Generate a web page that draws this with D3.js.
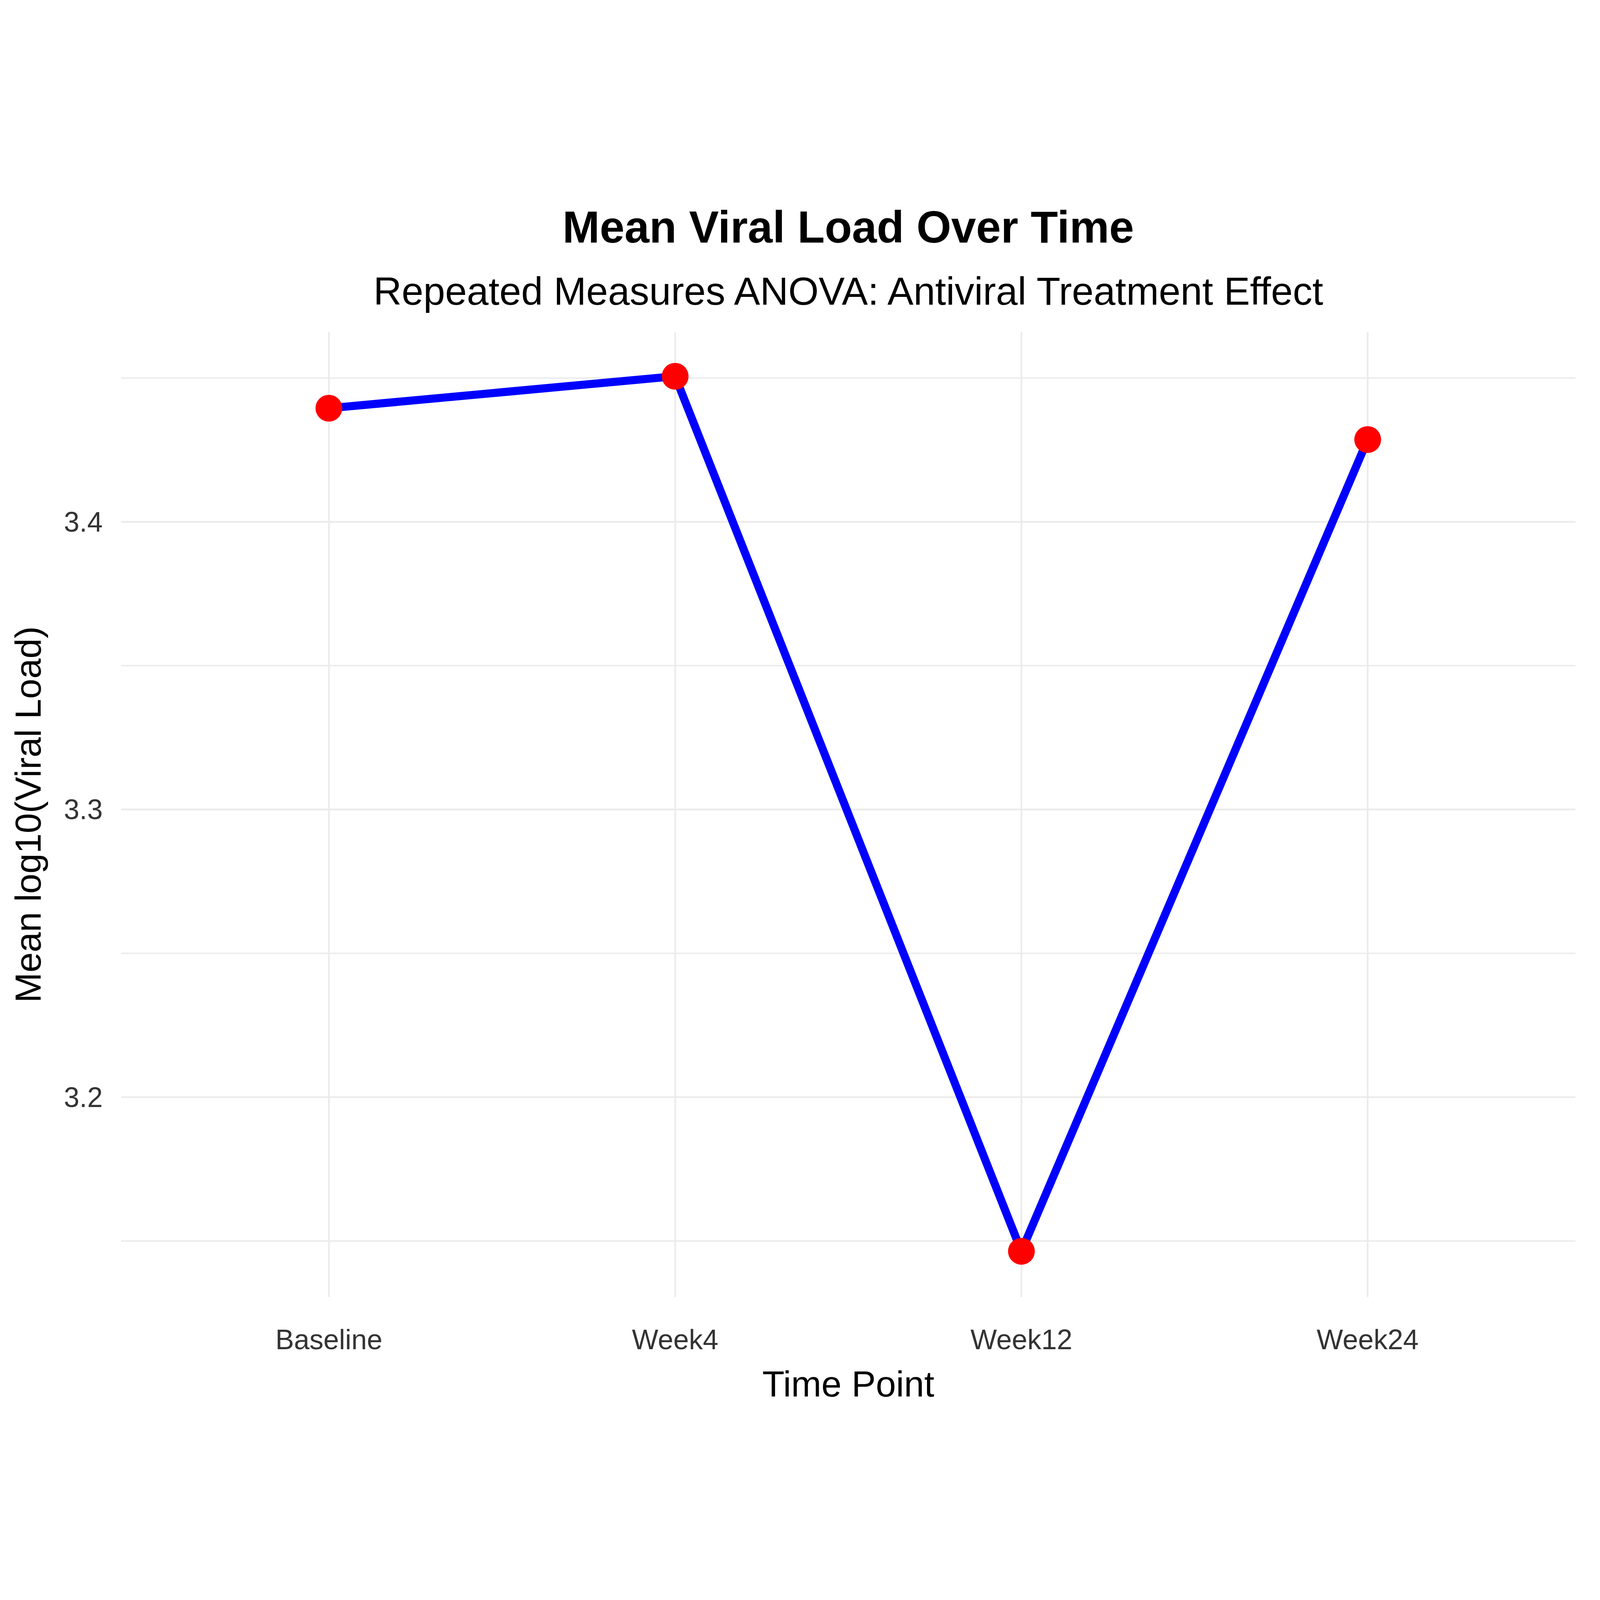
<!DOCTYPE html>
<html><head><meta charset="utf-8">
<script src="https://cdn.jsdelivr.net/npm/d3@7"></script>
<style>html,body{margin:0;padding:0;background:#fff;overflow:hidden;width:100%;height:100%}svg{display:block;width:100vw;height:100vh}</style></head>
<body><svg id="c" viewBox="0 0 5733 4310" preserveAspectRatio="xMidYMid meet"></svg>
<script>
const categories = ["Baseline","Week4","Week12","Week24"];
const values = [3.4395, 3.4506, 3.1464, 3.4286];
const majorTicks = [3.2, 3.3, 3.4];
const minorTicks = [3.15, 3.25, 3.35, 3.45];

const svg = d3.select("#c");
const L=434, R=5645, T=478, B=3936;
const x = d3.scaleLinear().domain([-0.6, categories.length-1+0.6]).range([L,R]);
const y = d3.scaleLinear().domain([3.1305, 3.466]).range([B,T]);
const font = "Liberation Sans, Arial, sans-serif";

svg.append("rect").attr("width",5733).attr("height",4310).attr("fill","#fff");
const g = svg.append("g");
g.selectAll(".mn").data(minorTicks).join("line")
 .attr("x1",L).attr("x2",R).attr("y1",d=>y(d)).attr("y2",d=>y(d))
 .attr("stroke","#ebebeb").attr("stroke-width",5);
g.selectAll(".mj").data(majorTicks).join("line")
 .attr("x1",L).attr("x2",R).attr("y1",d=>y(d)).attr("y2",d=>y(d))
 .attr("stroke","#ebebeb").attr("stroke-width",6);
g.selectAll(".vx").data(categories).join("line")
 .attr("x1",(d,i)=>x(i)).attr("x2",(d,i)=>x(i)).attr("y1",T).attr("y2",B)
 .attr("stroke","#ebebeb").attr("stroke-width",6);

const line = d3.line().x((d,i)=>x(i)).y(d=>y(d));
g.append("path").datum(values).attr("d",line).attr("fill","none")
 .attr("stroke","#0000ff").attr("stroke-width",29).attr("stroke-linejoin","round");
g.selectAll(".pt").data(values).join("circle")
 .attr("cx",(d,i)=>x(i)).attr("cy",d=>y(d)).attr("r",48).attr("fill","#ff0000");

g.selectAll(".yl").data(majorTicks).join("text")
 .attr("x",368).attr("y",d=>y(d)).attr("dy","0.35em").attr("text-anchor","end")
 .attr("font-family",font).attr("font-size",100).attr("fill","#333").text(d=>d.toFixed(1));
g.selectAll(".xl").data(categories).join("text")
 .attr("x",(d,i)=>x(i)).attr("y",4123).attr("text-anchor","middle")
 .attr("font-family",font).attr("font-size",100).attr("fill","#333").text(d=>d);

svg.append("text").attr("x",(L+R)/2).attr("y",4292).attr("text-anchor","middle")
 .attr("font-family",font).attr("font-size",130).text("Time Point");
svg.append("text").attr("transform",`translate(145,${(T+B)/2}) rotate(-90)`).attr("text-anchor","middle")
 .attr("font-family",font).attr("font-size",130).text("Mean log10(Viral Load)");
svg.append("text").attr("x",(L+R)/2).attr("y",158).attr("text-anchor","middle")
 .attr("font-family",font).attr("font-size",160).attr("font-weight","bold").text("Mean Viral Load Over Time");
svg.append("text").attr("x",(L+R)/2).attr("y",380).attr("text-anchor","middle")
 .attr("font-family",font).attr("font-size",140).text("Repeated Measures ANOVA: Antiviral Treatment Effect");
</script></body></html>
